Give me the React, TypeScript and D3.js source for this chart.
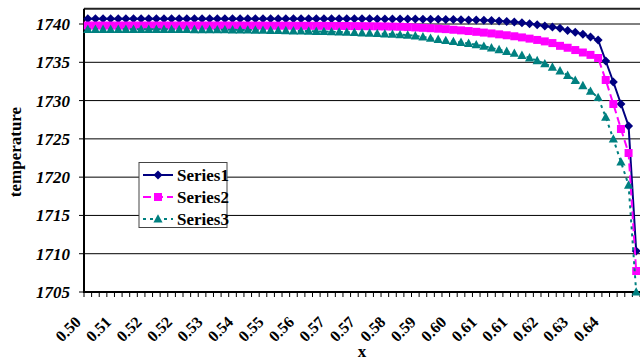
import React from "react";
import * as d3 from "d3";

// x-axis tick labels (one for every fourth category)
const xTickLabels = [
  "0.50", "0.51", "0.52", "0.52", "0.53", "0.54", "0.55", "0.56", "0.57",
  "0.57", "0.58", "0.59", "0.60", "0.61", "0.61", "0.62", "0.63", "0.64",
];

const yTicks = [1705, 1710, 1715, 1720, 1725, 1730, 1735, 1740];

const series1 = [
  1740.70, 1740.70, 1740.70, 1740.70, 1740.70, 1740.70, 1740.70, 1740.70, 1740.70, 1740.70,
  1740.70, 1740.70, 1740.70, 1740.70, 1740.70, 1740.70, 1740.70, 1740.70, 1740.70, 1740.70,
  1740.70, 1740.70, 1740.70, 1740.70, 1740.70, 1740.70, 1740.70, 1740.70, 1740.70, 1740.70,
  1740.70, 1740.70, 1740.69, 1740.69, 1740.69, 1740.68, 1740.68, 1740.68, 1740.67, 1740.67,
  1740.66, 1740.66, 1740.65, 1740.64, 1740.63, 1740.62, 1740.61, 1740.60, 1740.58, 1740.56,
  1740.54, 1740.52, 1740.49, 1740.45, 1740.40, 1740.33, 1740.25, 1740.15, 1740.04, 1739.90,
  1739.75, 1739.60, 1739.45, 1739.15, 1738.92, 1738.66, 1738.32, 1737.91, 1735.17, 1732.43,
  1729.55, 1726.68, 1710.35,
];

const series2 = [
  1739.80, 1739.80, 1739.80, 1739.80, 1739.80, 1739.80, 1739.80, 1739.80, 1739.80, 1739.80,
  1739.80, 1739.80, 1739.80, 1739.80, 1739.80, 1739.80, 1739.80, 1739.80, 1739.80, 1739.80,
  1739.80, 1739.79, 1739.79, 1739.79, 1739.78, 1739.78, 1739.78, 1739.77, 1739.77, 1739.77,
  1739.76, 1739.76, 1739.75, 1739.75, 1739.74, 1739.73, 1739.72, 1739.71, 1739.70, 1739.68,
  1739.66, 1739.64, 1739.60, 1739.55, 1739.50, 1739.45, 1739.39, 1739.33, 1739.25, 1739.17,
  1739.08, 1738.98, 1738.88, 1738.77, 1738.65, 1738.53, 1738.40, 1738.25, 1738.09, 1737.92,
  1737.73, 1737.51, 1737.15, 1736.90, 1736.60, 1736.28, 1735.97, 1735.56, 1732.69, 1729.55,
  1726.29, 1723.15, 1707.74,
];

const series3 = [
  1739.30, 1739.30, 1739.30, 1739.30, 1739.30, 1739.30, 1739.30, 1739.30, 1739.30, 1739.30,
  1739.30, 1739.30, 1739.29, 1739.29, 1739.28, 1739.28, 1739.27, 1739.26, 1739.25, 1739.24,
  1739.23, 1739.22, 1739.20, 1739.19, 1739.17, 1739.15, 1739.13, 1739.11, 1739.09, 1739.07,
  1739.04, 1739.02, 1738.99, 1738.96, 1738.93, 1738.89, 1738.85, 1738.81, 1738.77, 1738.72,
  1738.67, 1738.60, 1738.55, 1738.45, 1738.32, 1738.15, 1738.00, 1737.85, 1737.72, 1737.60,
  1737.48, 1737.30, 1737.10, 1736.88, 1736.65, 1736.42, 1736.18, 1735.90, 1735.58, 1735.22,
  1734.82, 1734.38, 1733.88, 1733.30, 1732.65, 1731.95, 1731.22, 1730.40, 1727.85, 1724.98,
  1721.98, 1718.97, 1705.00,
];

const seriesNames = ["Series1", "Series2", "Series3"];

type Marker = "diamond" | "square" | "triangle";

const styles: { color: string; dash: string; marker: Marker }[] = [
  { color: "#000080", dash: "", marker: "diamond" },
  { color: "#FF00FF", dash: "8,4", marker: "square" },
  { color: "#008080", dash: "3,4", marker: "triangle" },
];

const markerPath = (m: Marker) => {
  if (m === "diamond") return "M0,-4.5L4.5,0L0,4.5L-4.5,0Z";
  if (m === "square") return "M-4,-4H4V4H-4Z";
  return "M0,-4.8L4.6,3.6L-4.6,3.6Z";
};

const W = 640;
const H = 360;
const plot = { left: 84, right: 640, top: 8.7, bottom: 292 };
const textStyle = { fontFamily: '"Liberation Serif", "Times New Roman", serif' };

export default function App() {
  const allSeries = [series1, series2, series3];
  const n = series1.length;
  const idx = d3.range(n);

  const x = d3.scalePoint<number>().domain(idx).range([plot.left, plot.right]).padding(0.5);
  const step = x.step();
  const y = d3.scaleLinear().domain([1705, 1742]).range([plot.bottom, plot.top]);

  const line = (vals: number[]) =>
    d3
      .line<number>()
      .x((_, i) => x(i) as number)
      .y((v) => y(v))(vals) as string;

  const tickXs = d3.range(n + 1).map((i) => plot.left + i * step);

  return (
    <svg
      width={W}
      height={H}
      style={{ position: "absolute", left: 0, top: 0, background: "#fff" }}
    >
      <rect x={0} y={0} width={W} height={H} fill="#fff" />

      {/* horizontal gridlines */}
      {yTicks
        .filter((t) => t !== 1705)
        .map((t) => (
          <line key={t} x1={plot.left} x2={plot.right} y1={y(t)} y2={y(t)} stroke="#000" strokeWidth={1} />
        ))}
      {/* plot area top border */}
      <line x1={plot.left} x2={plot.right} y1={plot.top} y2={plot.top} stroke="#222" strokeWidth={2} />

      {/* y axis */}
      <line x1={plot.left} x2={plot.left} y1={plot.top} y2={plot.bottom + 1} stroke="#000" strokeWidth={2} />
      {yTicks.map((t) => (
        <g key={t}>
          <line x1={plot.left - 5} x2={plot.left} y1={y(t)} y2={y(t)} stroke="#000" strokeWidth={1} />
          <text
            x={70}
            y={y(t)}
            dy="0.35em"
            textAnchor="end"
            fontSize={17}
            fontWeight="bold"
            fontStyle="italic"
            style={textStyle}
          >
            {t}
          </text>
        </g>
      ))}

      {/* x axis */}
      <line x1={plot.left - 1} x2={plot.right} y1={plot.bottom} y2={plot.bottom} stroke="#000" strokeWidth={2} />
      {tickXs.map((tx, i) => (
        <line key={i} x1={tx} x2={tx} y1={plot.bottom} y2={plot.bottom + 5} stroke="#000" strokeWidth={1} />
      ))}
      {xTickLabels.map((lab, k) => {
        const cx = (x(k * 4) as number) - 6;
        const cy = 323;
        return (
          <text
            key={k}
            transform={`translate(${cx},${cy}) rotate(-45)`}
            textAnchor="end"
            fontSize={16}
            fontWeight="bold"
            style={textStyle}
          >
            {lab}
          </text>
        );
      })}

      {/* series lines and markers */}
      {allSeries.map((vals, s) => (
        <g key={s}>
          <path
            d={line(vals)}
            fill="none"
            stroke={styles[s].color}
            strokeWidth={2}
            strokeDasharray={styles[s].dash || undefined}
          />
          {vals.map((v, i) => (
            <path
              key={i}
              d={markerPath(styles[s].marker)}
              transform={`translate(${x(i)},${y(v)})`}
              fill={styles[s].color}
            />
          ))}
        </g>
      ))}

      {/* axis titles */}
      <text x={362} y={357} textAnchor="middle" fontSize={17} fontWeight="bold" style={textStyle}>
        x
      </text>
      <text
        transform={`translate(21,152) rotate(-90)`}
        textAnchor="middle"
        fontSize={17}
        fontWeight="bold"
        style={textStyle}
      >
        temperature
      </text>

      {/* legend */}
      <g>
        <rect x={139} y={162.5} width={88} height={65} fill="#fff" stroke="#444" strokeWidth={1} />
        {seriesNames.map((name, s) => {
          const ry = 175 + s * 22;
          return (
            <g key={name}>
              <line
                x1={143}
                x2={173}
                y1={ry}
                y2={ry}
                stroke={styles[s].color}
                strokeWidth={2}
                strokeDasharray={styles[s].dash || undefined}
              />
              <path d={markerPath(styles[s].marker)} transform={`translate(158,${ry})`} fill={styles[s].color} />
              <text x={177} y={ry} dy="0.35em" fontSize={17} fontWeight="bold" style={textStyle}>
                {name}
              </text>
            </g>
          );
        })}
      </g>
    </svg>
  );
}
